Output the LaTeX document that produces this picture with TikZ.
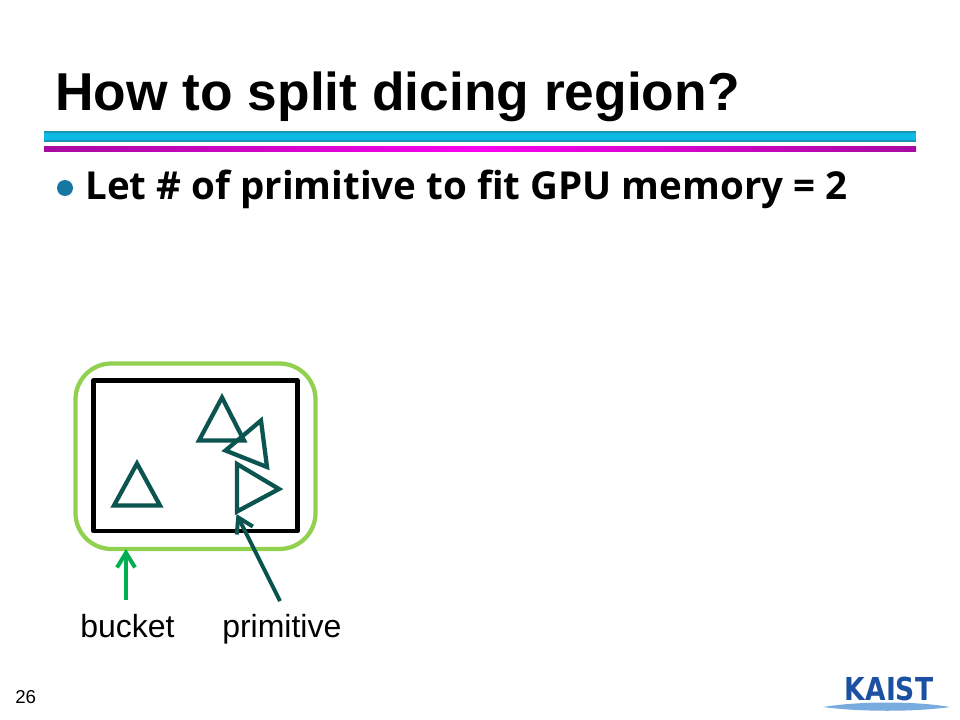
\documentclass[tikz,border=0pt]{standalone}
\usepackage{fontspec}
\setmainfont{Liberation Sans}
\newfontfamily\bulletfont{Open Sans}
\newfontfamily\logofont{DejaVu Sans}
\usetikzlibrary{arrows.meta,shadings}
\definecolor{teal1}{RGB}{12,84,80}
\definecolor{lightgreen}{RGB}{146,208,80}
\definecolor{arrowgreen}{RGB}{0,176,80}
\definecolor{bulletblue}{RGB}{22,120,160}
\definecolor{kaistblue}{RGB}{28,80,160}
\definecolor{barcyan}{RGB}{14,185,228}
\definecolor{baredge}{RGB}{24,150,180}
\definecolor{barpurple}{RGB}{168,10,160}
\definecolor{barmagenta}{RGB}{250,0,240}
\definecolor{lens}{RGB}{120,172,222}
\tikzset{
  prim/.style={draw=teal1,line width=3.2pt,line join=miter},
  txt/.style={inner sep=0pt,anchor=base west},
  tip/.style={-{Straight Barb[length=11pt,width=13.5pt,line width=3pt]}},
}
\begin{document}
\begin{tikzpicture}[x=0.75pt,y=-0.75pt]
\useasboundingbox (0,0) rectangle (960,720);
\fill[white] (0,0) rectangle (960,720);
\node[txt,font=\fontsize{40}{48}\selectfont\bfseries] (title) at (55,110.5) {How to split dicing region?};
\fill[barcyan] (44,131) rectangle (916,142);
\fill[baredge] (44,131) rectangle (916,133);
\fill[baredge] (44,140) rectangle (916,142);
\shade[left color=barpurple,right color=barmagenta] (44,147) rectangle (480,152);
\shade[left color=barmagenta,right color=barpurple] (480,147) rectangle (916,152);
\fill[bulletblue] (65,188) circle (8);
\node[txt,font=\bulletfont\fontsize{28.9}{34}\selectfont\bfseries] (bullet) at (85,199.5) {Let \# of primitive to fit GPU memory = 2};
\draw[lightgreen,line width=3.2pt,rounded corners=27] (75.5,363.5) rectangle (315.5,549);
\draw[black,line width=3.4pt,line join=round] (93.5,380.5) rectangle (297.5,531);
\draw[prim] (222,397.5)--(199,440.5)--(244,440.5)--cycle;
\draw[prim] (261,420.5)--(225.5,450.5)--(267,467)--cycle;
\draw[prim] (237,464)--(279,489)--(237,511.5)--cycle;
\draw[prim] (137,463.5)--(114,505.5)--(160,505.5)--cycle;
\node[txt,font=\fontsize{24}{28}\selectfont] (bucketlabel) at (80,637) {bucket};
\node[txt,font=\fontsize{24}{28}\selectfont] (primlabel) at (222,637) {primitive};
\coordinate (bstart) at (126,600);
\coordinate (bend) at (126,549);
\coordinate (pstart) at (280,601);
\coordinate (pend) at (236.5,514);
\draw[tip,arrowgreen,line width=3pt] (bstart)--(bend);
\draw[tip,teal1,line width=3pt] (pstart)--(pend);
\node[txt,font=\fontsize{14}{16}\selectfont] (pagenum) at (15,703) {26};
\fill[lens] (823,707) .. controls (860,701) and (915,701) .. (950,707) .. controls (915,712) and (860,712) .. (823,707) -- cycle;
\node[txt,font=\logofont\fontsize{23.7}{26}\selectfont\bfseries,text=kaistblue,xscale=.84,anchor=base] (logo) at (889,700) {KAIST};
\end{tikzpicture}
\end{document}
